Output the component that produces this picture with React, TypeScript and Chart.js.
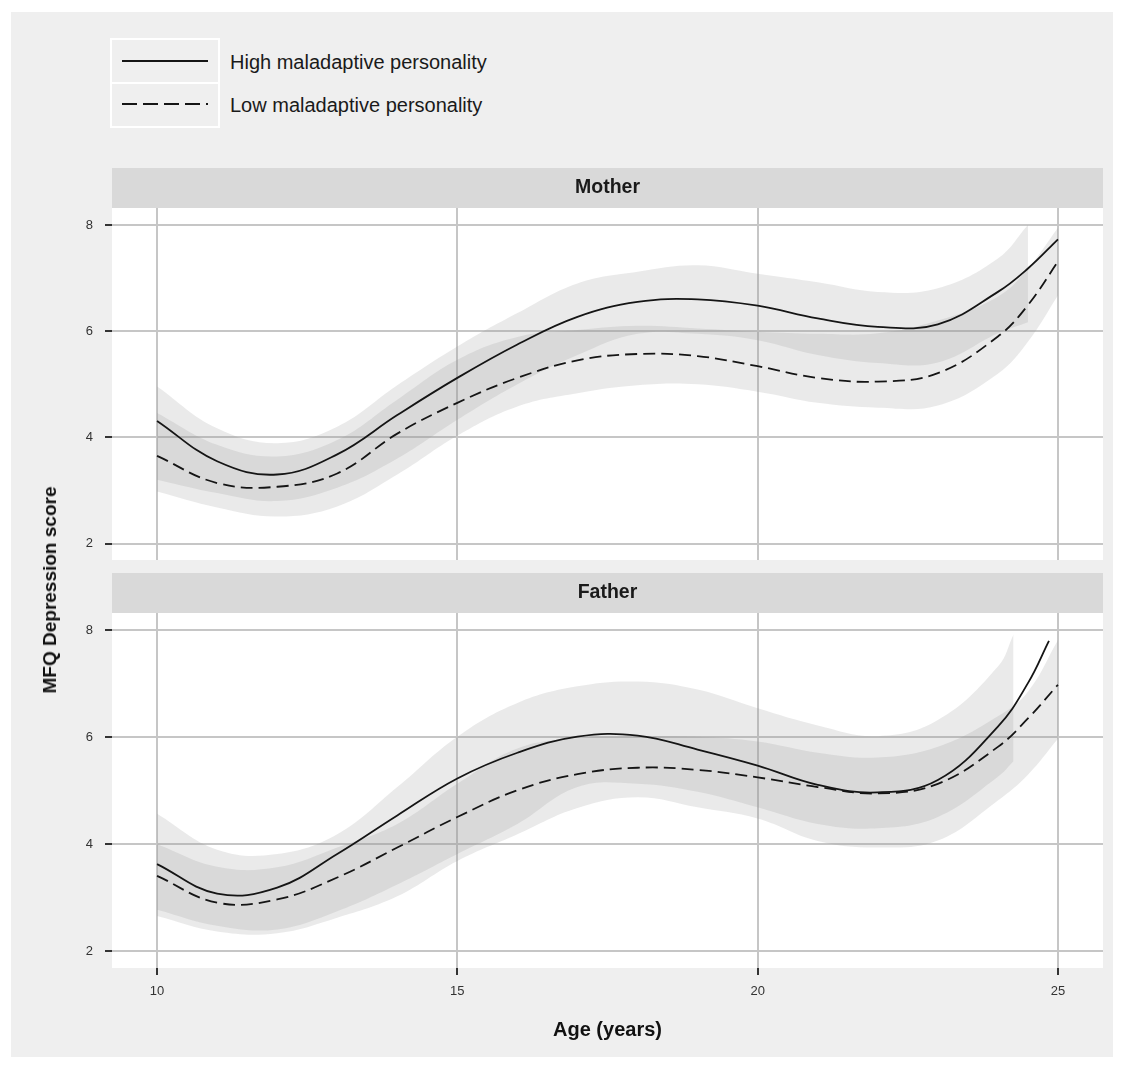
import React, { useEffect, useRef } from "react";
import { Chart, registerables } from "chart.js";

Chart.register(...registerables);

// ---------- data ----------
const xTicks = [10, 15, 20, 25];
const yTicks = [2, 4, 6, 8];

// Mother panel
const motherLineAges = [10, 11, 12, 13, 14, 15, 16, 17, 18, 19, 20, 21, 22, 23, 24, 24.5, 25];
const motherHigh = [4.31, 3.55, 3.3, 3.68, 4.42, 5.12, 5.75, 6.27, 6.55, 6.6, 6.48, 6.24, 6.08, 6.13, 6.74, 7.18, 7.73];
const motherLow = [3.65, 3.14, 3.07, 3.32, 4.07, 4.65, 5.12, 5.45, 5.57, 5.53, 5.34, 5.12, 5.05, 5.21, 5.9, 6.49, 7.31];
const motherHighBandAges = [10, 11, 12, 13, 14, 15, 16, 17, 18, 19, 20, 21, 22, 23, 24, 24.5];
const motherHighUpper = [4.96, 4.17, 3.89, 4.2, 4.98, 5.71, 6.34, 6.9, 7.12, 7.24, 7.08, 6.92, 6.74, 6.81, 7.37, 8.0];
const motherHighLower = [3.2, 2.95, 2.8, 3.05, 3.6, 4.33, 5.0, 5.55, 5.95, 5.95, 5.83, 5.55, 5.4, 5.41, 5.96, 6.17];
const motherLowBandAges = [10, 11, 12, 13, 14, 15, 16, 17, 18, 19, 20, 21, 22, 23, 24, 24.5, 25];
const motherLowUpper = [4.46, 3.86, 3.64, 3.95, 4.71, 5.46, 5.89, 6.02, 6.1, 6.05, 5.99, 5.95, 5.96, 6.2, 6.65, 7.18, 7.95];
const motherLowLower = [2.98, 2.68, 2.51, 2.7, 3.3, 4.03, 4.58, 4.83, 4.98, 5.0, 4.86, 4.65, 4.56, 4.6, 5.2, 5.8, 6.67];

// Father panel
const fatherHighAges = [10, 11, 12, 13, 14, 15, 16, 17, 18, 19, 20, 21, 22, 23, 24, 24.5, 24.85];
const fatherHigh = [3.63, 3.08, 3.19, 3.82, 4.54, 5.23, 5.71, 6.01, 6.03, 5.77, 5.47, 5.11, 4.97, 5.2, 6.2, 7.01, 7.8];
const fatherLowAges = [10, 11, 12, 13, 14, 15, 16, 17, 18, 19, 20, 21, 22, 23, 24, 24.5, 25];
const fatherLow = [3.41, 2.91, 2.97, 3.38, 3.94, 4.51, 5.01, 5.31, 5.43, 5.39, 5.25, 5.07, 4.95, 5.13, 5.82, 6.35, 6.98];
const fatherHighBandAges = [10, 11, 12, 13, 14, 15, 16, 17, 18, 19, 20, 21, 22, 23, 24, 24.26];
const fatherHighUpper = [4.57, 3.9, 3.82, 4.19, 5.07, 6.01, 6.64, 6.95, 7.04, 6.89, 6.54, 6.22, 6.02, 6.32, 7.32, 7.92];
const fatherHighLower = [2.78, 2.48, 2.41, 2.75, 3.25, 3.82, 4.38, 5.07, 5.13, 4.98, 4.69, 4.38, 4.3, 4.51, 5.26, 5.55];
const fatherLowBandAges = [10, 11, 12, 13, 14, 15, 16, 17, 18, 19, 20, 21, 22, 23, 24, 24.5, 25];
const fatherLowUpper = [4.0, 3.58, 3.57, 3.94, 4.38, 5.13, 5.79, 5.98, 6.02, 6.01, 5.92, 5.71, 5.62, 5.82, 6.39, 6.85, 7.81];
const fatherLowLower = [2.66, 2.37, 2.34, 2.63, 3.03, 3.69, 4.19, 4.68, 4.88, 4.69, 4.48, 4.06, 3.94, 4.07, 4.82, 5.3, 5.97];

const legendLabels = ["High maladaptive personality", "Low maladaptive personality"];

// ---------- styling ----------
const FONT = "'Liberation Sans', Arial, Helvetica, sans-serif";
const GRID = "#c6c6c6";
const RIBBON = "rgba(150,150,150,0.2)";
const LINE = "#151515";

const pts = (xs: number[], ys: number[]) => xs.map((x, i) => ({ x, y: ys[i] }));

type PanelData = {
  title: string;
  hiAges: number[];
  hi: number[];
  loAges: number[];
  lo: number[];
  hiBandAges: number[];
  hiUpper: number[];
  hiLower: number[];
  loBandAges: number[];
  loUpper: number[];
  loLower: number[];
};

const stripPlugin = {
  id: "strip",
  beforeDraw(chart: any, _args: any, opts: any) {
    const { ctx, chartArea } = chart;
    ctx.save();
    ctx.fillStyle = "#ffffff";
    ctx.fillRect(chartArea.left, chartArea.top, chartArea.right - chartArea.left, chartArea.bottom - chartArea.top);
    ctx.fillStyle = "#d9d9d9";
    ctx.fillRect(chartArea.left, chartArea.top - 40, chartArea.right - chartArea.left, 40);
    ctx.fillStyle = "#1a1a1a";
    ctx.font = `bold 19.5px ${FONT}`;
    ctx.textAlign = "center";
    ctx.textBaseline = "middle";
    ctx.fillText(opts.text, (chartArea.left + chartArea.right) / 2, chartArea.top - 20);
    ctx.restore();
  },
};

function Panel({ data, showX, height }: { data: PanelData; showX: boolean; height: number }) {
  const ref = useRef<HTMLCanvasElement | null>(null);
  useEffect(() => {
    if (!ref.current) return;
    const band = (xs: number[], ys: number[], fill: any) => ({
      data: pts(xs, ys),
      borderWidth: 0,
      borderColor: "rgba(0,0,0,0)",
      pointRadius: 0,
      tension: 0.4,
      fill,
    });
    const datasets: any[] = [
      {
        data: pts(data.hiAges, data.hi),
        borderColor: LINE,
        borderWidth: 1.8,
        pointRadius: 0,
        tension: 0.4,
        fill: false,
      },
      {
        data: pts(data.loAges, data.lo),
        borderColor: LINE,
        borderWidth: 1.8,
        borderDash: [12, 6],
        pointRadius: 0,
        tension: 0.4,
        fill: false,
      },
      band(data.hiBandAges, data.hiUpper, { target: 3, above: RIBBON, below: RIBBON }),
      band(data.hiBandAges, data.hiLower, false),
      band(data.loBandAges, data.loUpper, { target: 5, above: RIBBON, below: RIBBON }),
      band(data.loBandAges, data.loLower, false),
    ];
    const chart = new Chart(ref.current, {
      type: "line",
      data: { datasets },
      plugins: [stripPlugin],
      options: {
        responsive: false,
        animation: false,
        events: [],
        layout: { padding: { top: 40, right: 20, left: 0, bottom: 0 } },
        plugins: {
          legend: { display: false },
          tooltip: { enabled: false },
          strip: { text: data.title },
        } as any,
        scales: {
          x: {
            type: "linear",
            min: 9.25,
            max: 25.75,
            afterBuildTicks: (s: any) => {
              s.ticks = xTicks.map((v) => ({ value: v }));
            },
            afterFit: (s: any) => {
              s.height = showX ? 89 : 0;
            },
            border: { display: false },
            grid: {
              color: GRID,
              lineWidth: 2,
              drawTicks: showX,
              tickLength: 7,
              tickColor: "#333333",
              tickWidth: 2,
            },
            ticks: {
              display: showX,
              color: "#333333",
              font: { family: FONT, size: 13 },
              padding: 9,
              maxRotation: 0,
            },
            title: {
              display: showX,
              text: "Age (years)",
              color: "#111111",
              font: { family: FONT, size: 20, weight: "bold" },
              padding: { top: 0, bottom: 15 },
            },
          },
          y: {
            type: "linear",
            min: 1.69,
            max: 8.32,
            afterBuildTicks: (s: any) => {
              s.ticks = yTicks.map((v) => ({ value: v }));
            },
            afterFit: (s: any) => {
              s.width = 112;
              s.paddingTop = 0;
              s.paddingBottom = 0;
            },
            border: { display: false },
            grid: {
              color: GRID,
              lineWidth: 2,
              drawTicks: true,
              tickLength: 7,
              tickColor: "#333333",
              tickWidth: 2,
            },
            ticks: {
              color: "#333333",
              font: { family: FONT, size: 13 },
              padding: 12,
            },
          },
        },
      } as any,
    });
    return () => chart.destroy();
  }, [data, showX]);
  return <canvas ref={ref} width={1123} height={height} style={{ display: "block", width: 1123, height }} />;
}

const mother: PanelData = {
  title: "Mother",
  hiAges: motherLineAges,
  hi: motherHigh,
  loAges: motherLineAges,
  lo: motherLow,
  hiBandAges: motherHighBandAges,
  hiUpper: motherHighUpper,
  hiLower: motherHighLower,
  loBandAges: motherLowBandAges,
  loUpper: motherLowUpper,
  loLower: motherLowLower,
};

const father: PanelData = {
  title: "Father",
  hiAges: fatherHighAges,
  hi: fatherHigh,
  loAges: fatherLowAges,
  lo: fatherLow,
  hiBandAges: fatherHighBandAges,
  hiUpper: fatherHighUpper,
  hiLower: fatherHighLower,
  loBandAges: fatherLowBandAges,
  loUpper: fatherLowUpper,
  loLower: fatherLowLower,
};

export default function App() {
  const textStyle: React.CSSProperties = {
    position: "absolute",
    left: 230,
    fontFamily: FONT,
    fontSize: 20,
    color: "#1a1a1a",
    lineHeight: "22px",
    whiteSpace: "nowrap",
  };
  return (
    <div style={{ position: "absolute", left: 0, top: 0, width: 1123, height: 1068, background: "#ffffff", overflow: "hidden" }}>
      <div style={{ position: "absolute", left: 11, top: 12, width: 1102, height: 1045, background: "#efefef" }} />
      {/* legend */}
      <div style={{ position: "absolute", left: 110, top: 38, width: 106, height: 86, border: "2px solid #ffffff" }} />
      <div style={{ position: "absolute", left: 110, top: 82, width: 110, height: 2, background: "#ffffff" }} />
      <svg style={{ position: "absolute", left: 0, top: 0 }} width={260} height={140}>
        <line x1={122} y1={61} x2={208} y2={61} stroke={LINE} strokeWidth={2} />
        <line x1={122} y1={104} x2={208} y2={104} stroke={LINE} strokeWidth={2} strokeDasharray="15 6" />
      </svg>
      <div style={{ ...textStyle, top: 51 }}>{legendLabels[0]}</div>
      <div style={{ ...textStyle, top: 94 }}>{legendLabels[1]}</div>
      {/* panels */}
      <div style={{ position: "absolute", left: 0, top: 168 }}>
        <Panel data={mother} showX={false} height={392} />
      </div>
      <div style={{ position: "absolute", left: 0, top: 573 }}>
        <Panel data={father} showX={true} height={484} />
      </div>
      {/* y axis title */}
      <div
        style={{
          position: "absolute",
          left: 50,
          top: 590,
          transform: "translate(-50%, -50%) rotate(-90deg)",
          fontFamily: FONT,
          fontWeight: "bold",
          fontSize: 19,
          color: "#111111",
          whiteSpace: "nowrap",
        }}
      >
        MFQ Depression score
      </div>
    </div>
  );
}
